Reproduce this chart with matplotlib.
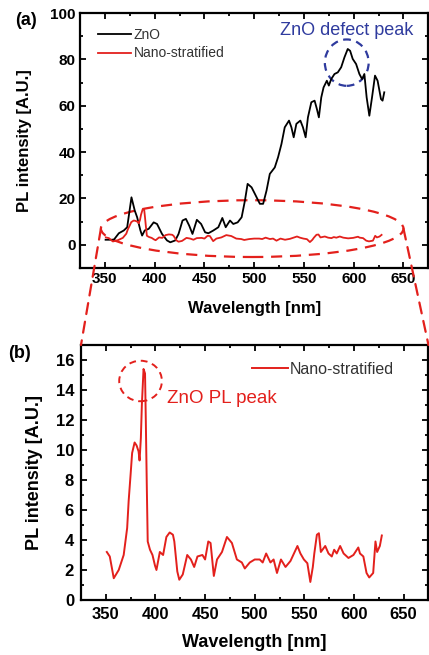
import matplotlib
matplotlib.use("Agg")
import matplotlib.pyplot as plt
from matplotlib.patches import Ellipse, ConnectionPatch
from matplotlib.ticker import MultipleLocator

plt.rcParams['font.family'] = ['Liberation Sans', 'DejaVu Sans']

# ZnO film PL spectrum
wl_zno = [350.7, 359, 364, 369, 372.4, 376.7, 380, 382.4, 385.7, 387.4, 390, 394, 399,
          402.4, 407.4, 412.4, 415.7, 420.7, 424, 428, 431.4, 434.7, 438, 442.4, 446.7,
          450.7, 454, 459, 464, 468, 471.4, 475.7, 479, 483.4, 487.4, 490.7, 493.4,
          497.4, 500.7, 505.7, 509, 512.4, 515.7, 520.7, 524, 527.4, 530.7, 535, 537.4,
          539.7, 542.4, 546.4, 549, 551.7, 554, 557.4, 560.7, 563, 565, 567.4, 569.7,
          573, 575, 577.4, 580.7, 584, 587.4, 590.7, 594, 596.4, 599, 602.4, 605.7,
          608.4, 610.7, 613, 615.7, 618.4, 621.4, 624, 627.4, 629, 630.7]
pl_zno = [2.2, 2.2, 5.0, 6.2, 7.6, 20.5, 14.8, 11.9, 6.2, 4.0, 6.2, 6.9, 9.7,
          9.0, 4.7, 1.9, 1.1, 1.9, 4.7, 10.5, 11.2, 8.3, 4.7, 10.8, 9.0,
          5.4, 5.0, 6.2, 7.6, 11.6, 7.6, 10.5, 9.0, 9.7, 11.9, 19.1, 26.3,
          24.8, 22.0, 17.7, 17.7, 23.4, 30.6, 33.4, 37.8, 43.5, 50.7, 53.6, 50.7,
          46.4, 52.2, 53.6, 50.7, 46.4, 55.0, 61.5, 62.2, 58.6, 55.0, 63.6, 67.9,
          70.8, 68.7, 71.5, 73.7, 74.4, 76.6, 80.9, 84.5, 83.7, 80.2, 78.0, 73.7,
          71.5, 73.7, 63.6, 55.7, 63.6, 73.0, 70.8, 62.9, 62.2, 65.8]

# nano-stratified film PL spectrum
wl_nano = [351, 354, 358, 363, 368, 371.5, 373, 375, 376.5, 379, 381, 383, 384, 385.3,
           386.3, 388, 389.5, 390.3, 391.3, 392.2, 394.5, 397, 399.5, 401, 404.4, 407.7,
           411, 414.3, 417.6, 419, 422, 424, 427.5, 432, 435.7, 439, 442.3, 447.3, 450,
           453.2, 455.5, 458.8, 462, 467, 472, 477, 482, 487, 490, 495, 500, 505, 508,
           511.5, 515.8, 519, 522.4, 526.4, 531, 536, 543, 546, 549.5, 553, 556, 558.5,
           560, 562.6, 564.6, 566.6, 571, 574.3, 577.6, 580, 582.6, 586, 589.5, 594.4,
           599.4, 604.3, 606, 609.4, 612.6, 615.3, 619.3, 621.6, 623.3, 626, 628]
pl_nano = [3.2, 2.9, 1.45, 2.0, 3.0, 4.8, 6.6, 8.4, 9.8, 10.5, 10.3, 9.9, 9.3, 10.8,
           13.0, 15.4, 15.1, 11.9, 7.5, 3.9, 3.35, 3.0, 2.3, 2.0, 3.2, 3.0,
           4.2, 4.5, 4.35, 3.9, 1.9, 1.35, 1.7, 3.0, 2.7, 2.2, 2.9, 3.0, 2.7,
           3.9, 3.8, 1.6, 2.7, 3.2, 4.2, 3.8, 2.7, 2.5, 2.1, 2.5, 2.7, 2.7, 2.5,
           3.1, 2.5, 2.7, 1.8, 2.7, 2.2, 2.6, 3.6, 3.1, 2.7, 2.45, 1.2, 2.2,
           3.1, 4.35, 4.45, 3.2, 3.6, 3.1, 2.9, 3.35, 3.1, 3.6, 3.1, 2.8,
           3.0, 3.5, 3.1, 2.9, 1.8, 1.5, 1.8, 3.9, 3.2, 3.6, 4.3]

red = '#e3201c'
blue = '#2f3b9e'

fig = plt.figure(figsize=(4.29, 6.55), dpi=100)
ax1 = fig.add_axes([0.1865, 0.5908, 0.812, 0.3893])
ax2 = fig.add_axes([0.1888, 0.0840, 0.810, 0.3893])


def style_axes(ax, size, pad):
    for s in ax.spines.values():
        s.set_linewidth(1.6)
    ax.tick_params(which='both', direction='in', top=True, right=True, width=1.3)
    ax.tick_params(which='major', length=4, labelsize=size, pad=pad)
    ax.tick_params(which='minor', length=2.2)
    for lab in ax.get_xticklabels() + ax.get_yticklabels():
        lab.set_fontweight('bold')


# (a) both spectra
ax1.plot(wl_zno, pl_zno, color='black', lw=1.3, label='ZnO')
ax1.plot(wl_nano, pl_nano, color=red, lw=1.3, label='Nano-stratified')
ax1.set_xlim(325, 675)
ax1.set_ylim(-10, 100)
ax1.xaxis.set_major_locator(MultipleLocator(50))
ax1.xaxis.set_minor_locator(MultipleLocator(25))
ax1.yaxis.set_major_locator(MultipleLocator(20))
ax1.yaxis.set_minor_locator(MultipleLocator(10))
style_axes(ax1, 11, 3)
ax1.set_xlabel('Wavelength [nm]', fontsize=12, fontweight='bold', labelpad=11)
ax1.set_ylabel('PL intensity [A.U.]', fontsize=12, fontweight='bold', labelpad=13)
leg1 = ax1.legend(loc='upper left', bbox_to_anchor=(0.035, 0.965), frameon=False,
                  fontsize=10, handlelength=2.4, handletextpad=0.2, labelspacing=0.35,
                  borderaxespad=0)
for t in leg1.get_texts():
    t.set_color('#333333')

ax1.add_patch(Ellipse((593, 78.6), 44, 20, fill=False, ec=blue, lw=1.6,
                      ls=(0, (3.5, 2.5)), clip_on=False))
ax1.text(526, 92.4, 'ZnO defect peak', color=blue, fontsize=13, va='center', ha='left')

# zoom region
zc, zw, zh = (498, 7), 304, 24.5
ax1.add_patch(Ellipse(zc, zw, zh, fill=False, ec=red, lw=1.6,
                      ls=(0, (5, 3.5)), clip_on=False))

# (b) nano-stratified only
ax2.plot(wl_nano, pl_nano, color=red, lw=1.4, label='Nano-stratified')
ax2.set_xlim(325, 675)
ax2.set_ylim(0, 17)
ax2.xaxis.set_major_locator(MultipleLocator(50))
ax2.xaxis.set_minor_locator(MultipleLocator(25))
ax2.yaxis.set_major_locator(MultipleLocator(2))
ax2.yaxis.set_minor_locator(MultipleLocator(1))
style_axes(ax2, 12, 5)
ax2.set_xlabel('Wavelength [nm]', fontsize=13, fontweight='bold', labelpad=9)
ax2.set_ylabel('PL intensity [A.U.]', fontsize=13, fontweight='bold', labelpad=9)
leg2 = ax2.legend(loc='upper left', bbox_to_anchor=(0.475, 0.96), frameon=False,
                  fontsize=11.5, handlelength=2.2, handletextpad=0.15, borderaxespad=0)
for t in leg2.get_texts():
    t.set_color('#333333')

ax2.add_patch(Ellipse((385, 14.6), 43, 2.7, fill=False, ec=red, lw=1.4,
                      ls=(0, (3.5, 2.5)), clip_on=False))
ax2.text(412, 13.4, 'ZnO PL peak', color=red, fontsize=13.5, va='center', ha='left')

for xa, xb in [(zc[0] - zw / 2, 0), (zc[0] + zw / 2, 1)]:
    con = ConnectionPatch(xyA=(xa, zc[1]), coordsA=ax1.transData,
                          xyB=(xb, 1), coordsB=ax2.transAxes,
                          color=red, lw=1.6, ls=(0, (5, 3.5)))
    fig.add_artist(con)

fig.text(0.035, 0.968, '(a)', fontsize=13, fontweight='bold', va='center')
fig.text(0.02, 0.461, '(b)', fontsize=13, fontweight='bold', va='center')

fig.savefig('out.png', dpi=100)
